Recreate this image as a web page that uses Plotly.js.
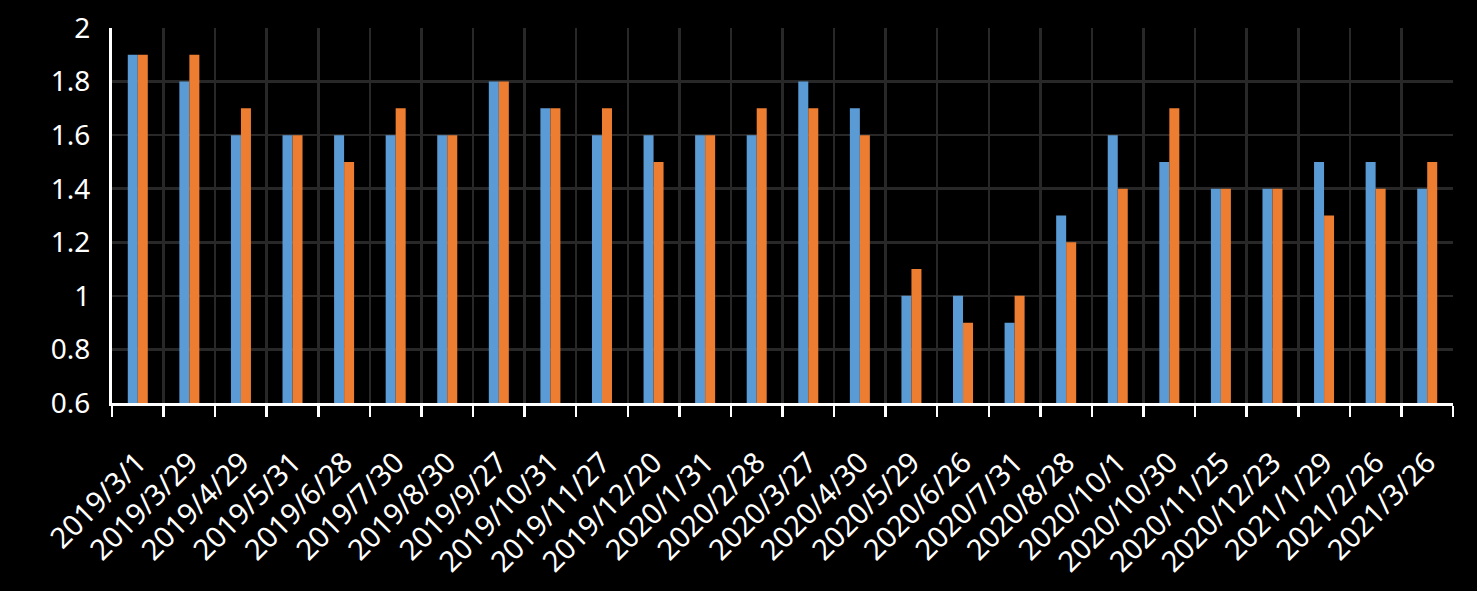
<!DOCTYPE html>
<html>
<head>
<meta charset="utf-8">
<script src="https://cdn.plot.ly/plotly-3.0.1.min.js"></script>
<style>html,body{margin:0;padding:0;background:#000;}#chart{width:1477px;height:591px;}</style>
</head>
<body>
<div id="chart"></div>
<script>
const categories = ["2019/3/1","2019/3/29","2019/4/29","2019/5/31","2019/6/28","2019/7/30","2019/8/30","2019/9/27","2019/10/31","2019/11/27","2019/12/20","2020/1/31","2020/2/28","2020/3/27","2020/4/30","2020/5/29","2020/6/26","2020/7/31","2020/8/28","2020/10/1","2020/10/30","2020/11/25","2020/12/23","2021/1/29","2021/2/26","2021/3/26"];
const seriesBlue = [1.9,1.8,1.6,1.6,1.6,1.6,1.6,1.8,1.7,1.6,1.6,1.6,1.6,1.8,1.7,1.0,1.0,0.9,1.3,1.6,1.5,1.4,1.4,1.5,1.5,1.4];
const seriesOrange = [1.9,1.9,1.7,1.6,1.5,1.7,1.6,1.8,1.7,1.7,1.5,1.6,1.7,1.7,1.6,1.1,0.9,1.0,1.2,1.4,1.7,1.4,1.4,1.3,1.4,1.5];
const yTicks = [0.6,0.8,1,1.2,1.4,1.6,1.8,2];

const font = "Noto Sans, Open Sans, sans-serif";
const data = [
  {type:"bar", x:categories, y:seriesBlue, marker:{color:"#5b9bd5"}, hoverinfo:"none"},
  {type:"bar", x:categories, y:seriesOrange, marker:{color:"#ed7d31"}, hoverinfo:"none"}
];
const layout = {
  width:1477, height:591,
  paper_bgcolor:"#000", plot_bgcolor:"#000",
  margin:{l:112, r:24, t:28, b:188},
  showlegend:false,
  barmode:"group", bargap:0.612, bargroupgap:0,
  font:{family:font, color:"#fff", size:26},
  xaxis:{type:"category", tickson:"boundaries", showgrid:true, gridcolor:"#282828", gridwidth:2.5,
    ticks:"outside", ticklen:11, tickwidth:2.5, tickcolor:"#fff",
    showline:true, linecolor:"#fff", linewidth:3, tickangle:-45, ticklabelstandoff:28,
    tickfont:{family:font, size:29, color:"#fff"}, automargin:false},
  yaxis:{range:[0.6,2], tickvals:yTicks, ticktext:yTicks.map(String), showgrid:true, gridcolor:"#282828", gridwidth:2.5,
    zeroline:false, showline:true, linecolor:"#fff", linewidth:3, ticks:"", ticklabelstandoff:13,
    tickfont:{family:font, size:28, color:"#fff"}, automargin:false}
};
Plotly.newPlot("chart", data, layout, {staticPlot:true});
</script>
</body>
</html>
